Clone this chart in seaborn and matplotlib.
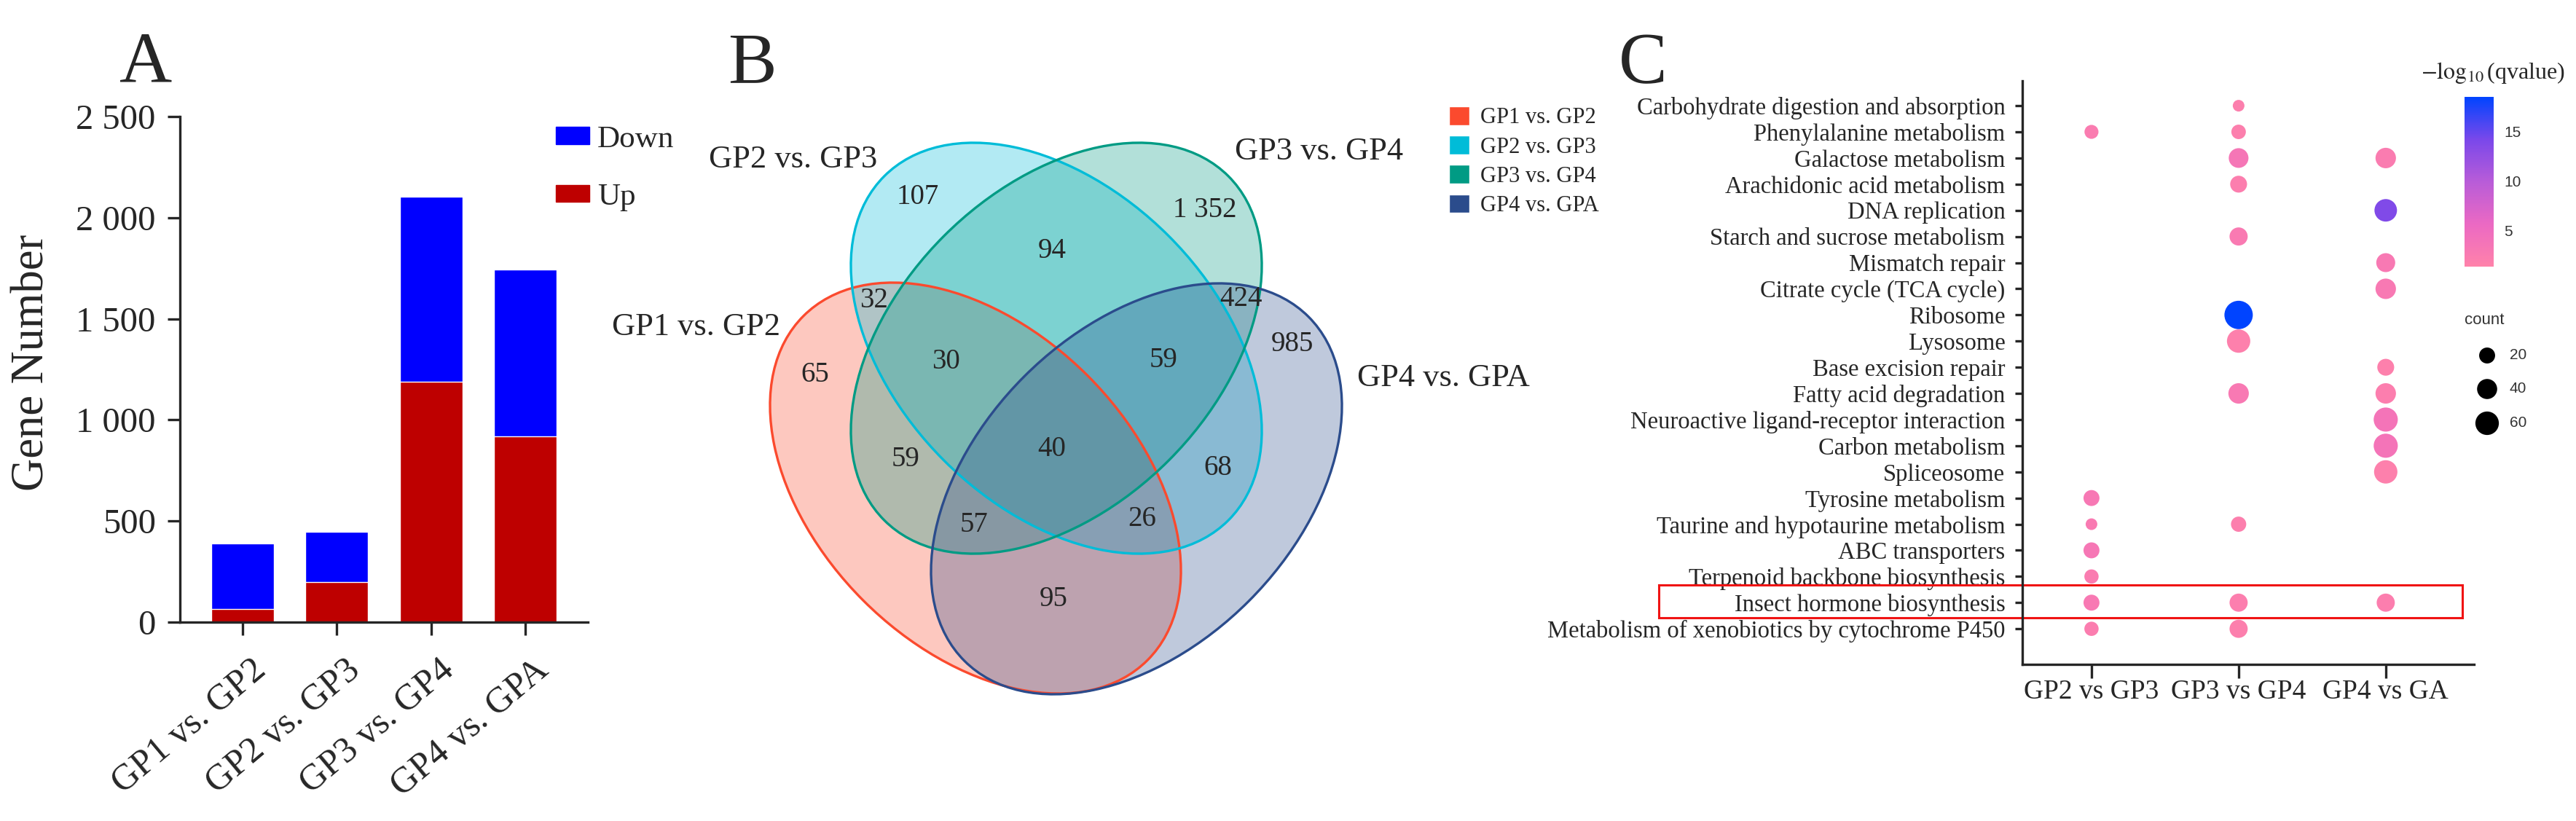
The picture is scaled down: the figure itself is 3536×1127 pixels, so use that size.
import matplotlib
matplotlib.use('Agg')
import matplotlib.pyplot as plt
import matplotlib.transforms as mtrans
import numpy as np
import pandas as pd
import seaborn as sns
from matplotlib.patches import Ellipse, Patch, Rectangle
from matplotlib.colors import LinearSegmentedColormap, Normalize
from matplotlib.cm import ScalarMappable
from matplotlib.ticker import FuncFormatter

# ---------------- data ----------------
# A: differentially expressed genes per comparison
comparisons = ['GP1 vs. GP2', 'GP2 vs. GP3', 'GP3 vs. GP4', 'GP4 vs. GPA']
up_genes = [65, 197, 1188, 919]
down_genes = [325, 248, 916, 825]

# B: four-set venn (A=GP1vsGP2, B=GP2vsGP3, C=GP3vsGP4, D=GP4vsGPA)
venn_sets = ['GP1 vs. GP2', 'GP2 vs. GP3', 'GP3 vs. GP4', 'GP4 vs. GPA']
venn_regions = ['B', 'C', 'BC', 'AB', 'CD', 'D', 'A', 'ABC', 'BCD', 'ABCD',
                'AC', 'BD', 'ACD', 'ABD', 'AD']
venn_counts = [107, 1352, 94, 32, 424, 985, 65, 30, 59, 40, 59, 68, 57, 26, 95]

# C: KEGG enrichment bubbles
pathways = ['Carbohydrate digestion and absorption', 'Phenylalanine metabolism',
            'Galactose metabolism', 'Arachidonic acid metabolism', 'DNA replication',
            'Starch and sucrose metabolism', 'Mismatch repair', 'Citrate cycle (TCA cycle)',
            'Ribosome', 'Lysosome', 'Base excision repair', 'Fatty acid degradation',
            'Neuroactive ligand-receptor interaction', 'Carbon metabolism', 'Spliceosome',
            'Tyrosine metabolism', 'Taurine and hypotaurine metabolism', 'ABC transporters',
            'Terpenoid backbone biosynthesis', 'Insect hormone biosynthesis',
            'Metabolism of xenobiotics by cytochrome P450']
kegg_groups = ['GP2 vs GP3', 'GP3 vs GP4', 'GP4 vs GA']

gp2_gp3_terms = ['Phenylalanine metabolism', 'Tyrosine metabolism',
                 'Taurine and hypotaurine metabolism', 'ABC transporters',
                 'Terpenoid backbone biosynthesis', 'Insect hormone biosynthesis',
                 'Metabolism of xenobiotics by cytochrome P450']
gp2_gp3_count = [12, 20, 4, 20, 13, 20, 13]
gp2_gp3_q = [2.5, 3.2, 2.8, 3.3, 2.5, 3.0, 2.3]

gp3_gp4_terms = ['Carbohydrate digestion and absorption', 'Phenylalanine metabolism',
                 'Galactose metabolism', 'Arachidonic acid metabolism',
                 'Starch and sucrose metabolism', 'Ribosome', 'Lysosome',
                 'Fatty acid degradation', 'Taurine and hypotaurine metabolism',
                 'Insect hormone biosynthesis', 'Metabolism of xenobiotics by cytochrome P450']
gp3_gp4_count = [4, 14, 38, 24, 30, 94, 59, 42, 17, 30, 30]
gp3_gp4_q = [2.0, 2.0, 3.5, 2.2, 2.8, 18.5, 1.8, 3.0, 2.0, 2.2, 2.0]

gp4_ga_terms = ['Galactose metabolism', 'DNA replication', 'Mismatch repair',
                'Citrate cycle (TCA cycle)', 'Base excision repair', 'Fatty acid degradation',
                'Neuroactive ligand-receptor interaction', 'Carbon metabolism', 'Spliceosome',
                'Insect hormone biosynthesis']
gp4_ga_count = [42, 54, 34, 42, 24, 42, 64, 64, 59, 30]
gp4_ga_q = [2.5, 13.8, 3.0, 3.0, 1.8, 2.2, 3.8, 3.8, 1.8, 2.2]

count_legend = [20, 40, 60]
q_ticks = [5, 10, 15]

# ---------------- style ----------------
sns.set_style('ticks')
plt.rcParams['font.family'] = ['Liberation Serif', 'DejaVu Serif']
plt.rcParams['mathtext.fontset'] = 'stix'
plt.rcParams['axes.linewidth'] = 2.4

W, H = 3537, 1127
fig = plt.figure(figsize=(W / 100, H / 100), dpi=100)


def px_axes(x0, y0, x1, y1):
    return fig.add_axes([x0 / W, 1 - y1 / H, (x1 - x0) / W, (y1 - y0) / H])


def fx(x):
    return x / W


def fy(y):
    return 1 - y / H


# ---------------- A ----------------
df_a = pd.DataFrame({'comparison': comparisons, 'Up': up_genes, 'Down': down_genes})
df_a['Total'] = df_a['Up'] + df_a['Down']

axa = px_axes(247, 160, 807, 854)
sns.barplot(data=df_a, x='comparison', y='Total', color='#0000FF', saturation=1,
            width=0.667, errorbar=None, ax=axa)
sns.barplot(data=df_a, x='comparison', y='Up', color='#BE0000', saturation=1,
            width=0.667, errorbar=None, ax=axa)
axa.set_xlim(-0.667, 3.667)
axa.set_ylim(0, 2500)
axa.set_yticks([0, 500, 1000, 1500, 2000, 2500])
axa.yaxis.set_major_formatter(FuncFormatter(lambda v, p: f'{int(v):,}'.replace(',', ' ')))
sns.despine(ax=axa)
axa.tick_params(axis='y', labelsize=35, length=12, width=2.4, pad=12, direction='out')
axa.tick_params(axis='x', labelsize=36, length=13, width=2.4, pad=30, direction='out')
axa.set_xlabel('')
axa.set_ylabel('Gene Number', fontsize=45)
axa.yaxis.set_label_coords(-0.31, 0.513)
for tick in axa.xaxis.get_major_ticks():
    tick.label1.set_rotation(40)
    tick.label1.set_ha('right')
    tick.label1.set_va('center')
    tick.label1.set_rotation_mode('anchor')
    tick.label1.set_transform(tick.label1.get_transform()
                              + mtrans.ScaledTranslation(0.26, 0, fig.dpi_scale_trans))
fig.legend(handles=[Patch(color='#0000FF', label='Down'), Patch(color='#BE0000', label='Up')],
           loc='upper left', bbox_to_anchor=(fx(763), fy(172)), frameon=False, fontsize=31,
           handlelength=1.07, handleheight=0.47, handletextpad=0.25, labelspacing=0.95,
           borderpad=0, borderaxespad=0)

# ---------------- B ----------------
axb = px_axes(1000, 0, 2200, 1127)
axb.set_xlim(1000, 2200)
axb.set_ylim(1127, 0)
axb.axis('off')

venn_colors = ['#FB4A2E', '#00BCD8', '#009B84', '#2B4C8C']
ellipse_centers = [(1339, 670), (1450, 478), (1450, 478), (1560, 671)]
ellipse_angles = [45, 45, -45, -45]
for (cx, cy), ang, col in zip(ellipse_centers, ellipse_angles, venn_colors):
    axb.add_patch(Ellipse((cx, cy), 668, 436, angle=ang, facecolor=col, alpha=0.3,
                          edgecolor='none'))
for (cx, cy), ang, col in zip(ellipse_centers, ellipse_angles, venn_colors):
    axb.add_patch(Ellipse((cx, cy), 668, 436, angle=ang, fill=False, edgecolor=col, lw=2.4))

region_xy = {'B': (1260, 270), 'C': (1654, 288), 'BC': (1444, 344), 'AB': (1200, 413),
             'CD': (1704, 410), 'D': (1774, 473), 'A': (1119, 514), 'ABC': (1298, 496),
             'BCD': (1597, 495), 'ABCD': (1444, 617), 'AC': (1243, 630), 'BD': (1672, 642),
             'ACD': (1337, 721), 'ABD': (1568, 713), 'AD': (1446, 822)}
for reg, n in zip(venn_regions, venn_counts):
    x, y = region_xy[reg]
    axb.text(x, y, f'{n:,}'.replace(',', ' '), fontsize=28, ha='center', va='center')

set_label_xy = [(956, 449), (1089, 219), (1811, 208), (1981, 519)]
for name, (x, y) in zip(venn_sets, set_label_xy):
    axb.text(x, y, name, fontsize=32, ha='center', va='center')

fig.legend(handles=[Patch(facecolor=c, label=s) for c, s in zip(venn_colors, venn_sets)],
           loc='upper left', bbox_to_anchor=(fx(1989), fy(146)), frameon=False, fontsize=22,
           handlelength=0.92, handleheight=0.92, handletextpad=0.5, labelspacing=0.32,
           borderpad=0, borderaxespad=0)

# ---------------- C ----------------
rows = []
for grp, terms, cnts, qs in zip(kegg_groups,
                                [gp2_gp3_terms, gp3_gp4_terms, gp4_ga_terms],
                                [gp2_gp3_count, gp3_gp4_count, gp4_ga_count],
                                [gp2_gp3_q, gp3_gp4_q, gp4_ga_q]):
    for t, c, q in zip(terms, cnts, qs):
        rows.append({'group': grp, 'pathway': t, 'count': c, 'q': q})
df_c = pd.DataFrame(rows)
df_c['group'] = pd.Categorical(df_c['group'], categories=kegg_groups)
df_c['pathway'] = pd.Categorical(df_c['pathway'], categories=pathways)

cmap = LinearSegmentedColormap.from_list(
    'qv', [(0, '#FF82AA'), (0.25, '#EB69C3'), (0.5, '#B85CD8'), (0.75, '#7A48EA'), (1, '#0044FF')])
q_norm = Normalize(1.4, 18.5)
SIZE_LO, SIZE_HI, COUNT_MAX = 103.7, 829.4, 100


def bubble_size(c):
    return SIZE_LO + (SIZE_HI - SIZE_LO) * c / COUNT_MAX


axc = px_axes(2776, 111, 3396, 912)
sns.scatterplot(data=df_c, x='group', y='pathway', hue='q', size='count', palette=cmap,
                hue_norm=q_norm, sizes=(SIZE_LO, SIZE_HI), size_norm=(0, COUNT_MAX),
                linewidth=0, legend=False, ax=axc)
axc.set_xlim(-0.47, 2.6)
axc.set_ylim(len(pathways) - 1 + 1.36, -0.95)
axc.set_xticks(range(len(kegg_groups)))
axc.set_xticklabels(kegg_groups)
axc.set_yticks(range(len(pathways)))
axc.set_yticklabels(pathways)
axc.set_xlabel('')
axc.set_ylabel('')
sns.despine(ax=axc)
axc.tick_params(axis='y', labelsize=23.5, length=7, width=2.4, pad=10)
axc.tick_params(axis='x', labelsize=27, length=13.5, width=2.4, pad=1)

hi = pathways.index('Insect hormone biosynthesis')
axc.add_patch(Rectangle((-2.94, hi - 0.67), 5.46, 1.25, fill=False, edgecolor='#F01414',
                        lw=2.2, clip_on=False))

# colour bar
cax = px_axes(3383, 133, 3423, 366)
cb = fig.colorbar(ScalarMappable(norm=q_norm, cmap=cmap), cax=cax, ticks=q_ticks)
cb.outline.set_visible(False)
cax.tick_params(left=True, right=True, direction='in', color='white', length=5, width=1.2,
                labelleft=False, labelright=True, labelsize=15, labelcolor='#333333', pad=10)
for lbl in cax.get_yticklabels():
    lbl.set_family(['Liberation Sans', 'DejaVu Sans'])
fig.text(fx(3422), fy(100), r'$-\log_{10}$(qvalue)', fontsize=23, ha='center', va='center')

# count legend
axl = px_axes(3380, 420, 3500, 610)
axl.set_xlim(3380, 3500)
axl.set_ylim(610, 420)
axl.axis('off')
legend_y = [488, 534, 581]
axl.scatter([3414] * len(count_legend), legend_y, s=[bubble_size(c) for c in count_legend],
            color='black', linewidth=0)
for c, y in zip(count_legend, legend_y):
    axl.text(3445, y, str(c), fontsize=15, va='center', color='#333333',
             family=['Liberation Sans', 'DejaVu Sans'])
axl.text(3383, 440, 'count', fontsize=16, va='center', color='#333333',
         family=['Liberation Sans', 'DejaVu Sans'])

# panel letters
for letter, x in zip(['A', 'B', 'C'], [200, 1032, 2255]):
    fig.text(fx(x), fy(113), letter, fontsize=72, ha='center', va='baseline')

fig.savefig('out.png', dpi=100)
